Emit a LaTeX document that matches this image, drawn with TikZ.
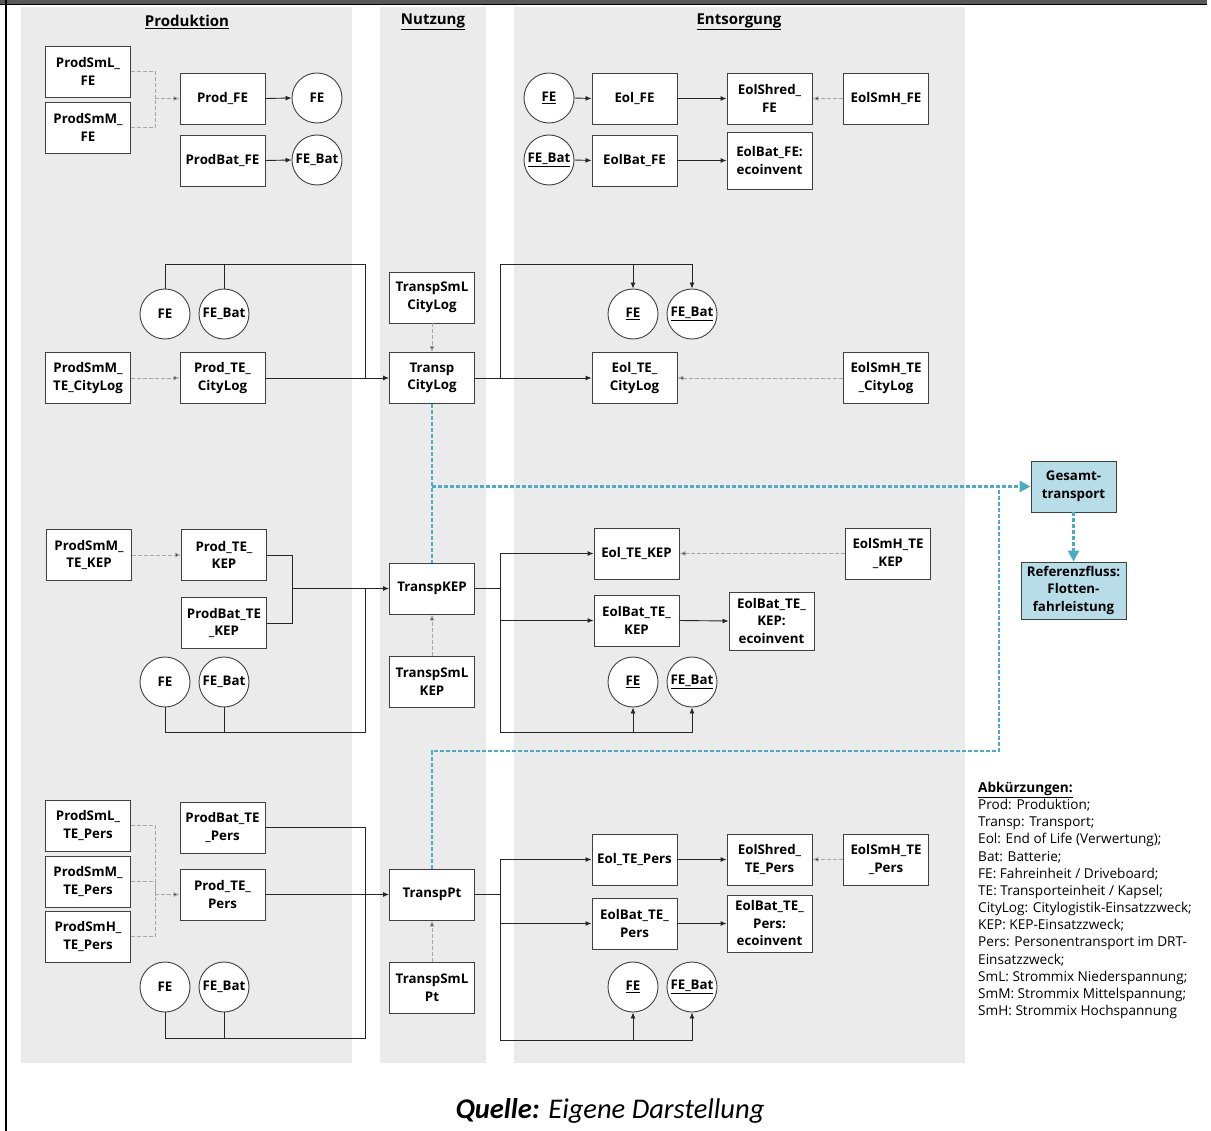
\documentclass[tikz,border=0pt]{standalone}
\usepackage{fontspec}
\setmainfont{Open Sans}
\newfontfamily\capfont{Carlito}
\usetikzlibrary{arrows.meta}
\definecolor{panel}{HTML}{EBEBEB}
\definecolor{bord}{HTML}{404040}
\definecolor{lblue}{HTML}{B7DEE8}
\definecolor{dblue}{HTML}{4BACC6}
\definecolor{dgray}{HTML}{A6A6A6}
\tikzset{
  x=1pt, y=-1pt,
  nfont/.style={font=\fontsize{13.3}{17.5}\selectfont\bfseries},
  box/.style={nfont, draw=bord, fill=white, line width=0.9pt, minimum width=85pt, minimum height=51pt, align=center, inner sep=1pt},
  tall/.style={box, minimum height=57pt},
  circ/.style={nfont, circle, draw=bord, fill=white, line width=0.9pt, minimum size=50pt, inner sep=0pt},
  ln/.style={draw=black!85, line width=0.9pt},
  flow/.style={ln, -{Latex[length=6pt,width=5pt]}},
  dsh/.style={draw=dgray, line width=0.8pt, dash pattern=on 4pt off 2pt},
  dsha/.style={dsh, -{Latex[length=6pt,width=5pt,fill=black!85]}},
  blu/.style={draw=dblue, line width=2.8pt, dash pattern=on 4pt off 2pt},
  bluarr/.style={blu, -{Triangle[length=11pt,width=11pt,fill=dblue]}},
  title/.style={font=\fontsize{15}{18}\selectfont\bfseries},
}
\begin{document}
\begin{tikzpicture}
\useasboundingbox (0,0) rectangle (1211,1131);
\fill[white] (0,0) rectangle (1211,1131);
% frame
\fill[black!65] (0,0) rectangle (1207,4);
\draw[black, line width=1.2pt] (0,4.5) -- (1207,4.5);
\draw[black, line width=2pt] (6,0) -- (6,1131);
% panels
\fill[panel] (21,7) rectangle (352,1063);
\fill[panel] (380,7) rectangle (486,1063);
\fill[panel] (514,7) rectangle (965,1063);
\node[title] (tprod) at (187,22) {\underline{Produktion}};
\node[title] (tnutz) at (433,22) {\underline{Nutzung}};
\node[title] (tents) at (739,22) {\underline{Entsorgung}};

% ---------- top: FE ----------
\node[box] (psl1) at (88,71.5) {ProdSmL\_\\FE};
\node[box] (psm1) at (88,127.5) {ProdSmM\_\\FE};
\node[box] (pfe) at (222.5,98.5) {Prod\_FE};
\node[circ] (fe1) at (317,98) {FE};
\node[box] (pbfe) at (222.5,160.5) {ProdBat\_FE};
\node[circ] (feb1) at (317,160) {FE\_Bat};
\coordinate (j1) at (155,98.5);
\draw[dsh] (psl1.east) -| (j1);
\draw[dsh] (psm1.east) -| (j1);
\draw[dsha] (j1) -- (pfe.west);
\draw[flow] (pfe.east) -- (fe1.west);
\draw[flow] (pbfe.east) -- (feb1.west);

\node[circ] (efe1) at (549,98) {\underline{FE}};
\node[box] (eolfe) at (634.5,98.5) {Eol\_FE};
\node[box] (eshfe) at (769.5,98.5) {EolShred\_\\FE};
\node[box] (esmhfe) at (886,98.5) {EolSmH\_FE};
\node[circ] (efeb1) at (549,160) {\underline{FE\_Bat}};
\node[box] (eolbfe) at (634.5,160.5) {EolBat\_FE};
\node[tall] (eolbfeei) at (769.5,160.5) {EolBat\_FE:\\ecoinvent};
\draw[flow] (efe1.east) -- (eolfe.west);
\draw[flow] (eolfe.east) -- (eshfe.west);
\draw[dsha] (esmhfe.west) -- (eshfe.east);
\draw[flow] (efeb1.east) -- (eolbfe.west);
\draw[flow] (eolbfe.east) -- (eolbfeei.west);

% ---------- CityLog ----------
\node[circ] (cfe) at (165,314) {FE};
\node[circ] (cfeb) at (224,314) {FE\_Bat};
\node[box] (psmc) at (88,378) {ProdSmM\_\\TE\_CityLog};
\node[box] (ptec) at (222.5,378) {Prod\_TE\_\\CityLog};
\node[box] (tsmlc) at (432,297.5) {TranspSmL\\CityLog};
\node[box] (tc) at (432,378) {Transp\\CityLog};
\node[circ] (cefe) at (633,314) {\underline{FE}};
\node[circ] (cefeb) at (692,314) {\underline{FE\_Bat}};
\node[box] (eolc) at (634.5,378) {Eol\_TE\_\\CityLog};
\node[box] (esmhc) at (886,378) {EolSmH\_TE\\\_CityLog};
\coordinate (cj) at (365,378);
\coordinate (ct) at (365,264);
\draw[dsha] (psmc.east) -- (ptec.west);
\draw[flow] (ptec.east) -- (tc.west);
\draw[ln] (cfe.north) |- (ct) -- (cj);
\draw[ln] (cfeb.north) -- (cfeb.north |- ct);
\draw[dsha] (tsmlc.south) -- (tc.north);
\coordinate (cej) at (500,378);
\coordinate (cet) at (500,264);
\draw[ln] (tc.east) -- (cej);
\draw[flow] (cej) -- (eolc.west);
\draw[ln] (cej) -- (cet);
\draw[flow] (cet) -| (cefeb.north);
\draw[flow] (cefe.north |- cet) -- (cefe.north);
\draw[dsha] (esmhc.west) -- (eolc.east);

% ---------- KEP ----------
\node[box] (psmk) at (89,555) {ProdSmM\_\\TE\_KEP};
\node[box] (ptek) at (224,555) {Prod\_TE\_\\KEP};
\node[box] (pbk) at (224,623) {ProdBat\_TE\\\_KEP};
\node[circ] (kfe) at (165,682) {FE};
\node[circ] (kfeb) at (224,682) {FE\_Bat};
\node[box] (tk) at (432,588.5) {TranspKEP};
\node[box] (tsmlk) at (432,681.5) {TranspSmL\\KEP};
\node[box] (eolk) at (636.5,553.5) {Eol\_TE\_KEP};
\node[box] (esmhk) at (888,553.5) {EolSmH\_TE\\\_KEP};
\node[box] (eolbk) at (636.5,620.5) {EolBat\_TE\_\\KEP};
\node[box, minimum height=58pt] (eolbkei) at (771.5,621) {EolBat\_TE\_\\KEP:\\ecoinvent};
\node[circ] (kefe) at (633,682) {\underline{FE}};
\node[circ] (kefeb) at (692,682) {\underline{FE\_Bat}};
\draw[dsha] (psmk.east) -- (ptek.west);
\coordinate (kj1) at (292,588.5);
\draw[ln] (ptek.east) -| (kj1);
\draw[ln] (pbk.east) -| (kj1);
\draw[flow] (kj1) -- (tk.west);
\coordinate (kb) at (365,732);
\coordinate (kj2) at (365,588.5);
\draw[ln] (kfe.south) |- (kb) -- (kj2);
\draw[ln] (kfeb.south) -- (kfeb.south |- kb);
\draw[dsha] (tsmlk.north) -- (tk.south);
\coordinate (kej) at (500,588.5);
\coordinate (ket) at (500,553.5);
\coordinate (keb) at (500,732);
\draw[ln] (tk.east) -- (kej);
\draw[ln] (ket) -- (keb);
\draw[flow] (ket) -- (eolk.west);
\draw[flow] (eolbk.west -| kej) -- (eolbk.west);
\draw[flow] (keb) -| (kefeb.south);
\draw[flow] (kefe.south |- keb) -- (kefe.south);
\draw[dsha] (esmhk.west) -- (eolk.east);
\draw[flow] (eolbk.east) -- (eolbkei.west);

% ---------- Pers ----------
\node[box] (pslp) at (88,825.5) {ProdSmL\_\\TE\_Pers};
\node[box] (psmp) at (88,881.5) {ProdSmM\_\\TE\_Pers};
\node[box] (pshp) at (88,936.5) {ProdSmH\_\\TE\_Pers};
\node[box] (pbp) at (222.5,827.5) {ProdBat\_TE\\\_Pers};
\node[box] (ptep) at (222.5,894.5) {Prod\_TE\_\\Pers};
\node[circ] (xfe) at (165,987) {FE};
\node[circ] (xfeb) at (224,987) {FE\_Bat};
\node[box] (tp) at (432,894.5) {TranspPt};
\node[box] (tsmlp) at (432,987.5) {TranspSmL\\Pt};
\node[box] (eolp) at (634.5,859.5) {Eol\_TE\_Pers};
\node[box] (eshp) at (769.5,859.5) {EolShred\_\\TE\_Pers};
\node[box] (esmhp) at (886,859.5) {EolSmH\_TE\\\_Pers};
\node[box] (eolbp) at (634.5,923.5) {EolBat\_TE\_\\Pers};
\node[tall] (eolbpei) at (769.5,923.5) {EolBat\_TE\_\\Pers:\\ecoinvent};
\node[circ] (pefe) at (633,987) {\underline{FE}};
\node[circ] (pefeb) at (692,987) {\underline{FE\_Bat}};
\coordinate (pj) at (155,894.5);
\draw[dsh] (pslp.east) -| (pj);
\draw[dsh] (psmp.east) -| (pj);
\draw[dsh] (pshp.east) -| (pj);
\draw[dsha] (pj) -- (ptep.west);
\coordinate (pr) at (365,894.5);
\coordinate (pb) at (365,1038);
\draw[ln] (pbp.east) -| (pr);
\draw[flow] (ptep.east) -- (tp.west);
\draw[ln] (xfe.south) |- (pb) -- (pr);
\draw[ln] (xfeb.south) -- (xfeb.south |- pb);
\draw[dsha] (tsmlp.north) -- (tp.south);
\coordinate (pej) at (500,894.5);
\coordinate (pet) at (500,859.5);
\coordinate (peb) at (500,1040);
\draw[ln] (tp.east) -- (pej);
\draw[ln] (pet) -- (peb);
\draw[flow] (pet) -- (eolp.west);
\draw[flow] (eolbp.west -| pej) -- (eolbp.west);
\draw[flow] (peb) -| (pefeb.south);
\draw[flow] (pefe.south |- peb) -- (pefe.south);
\draw[flow] (eolp.east) -- (eshp.west);
\draw[dsha] (esmhp.west) -- (eshp.east);
\draw[flow] (eolbp.east) -- (eolbpei.west);

% ---------- Gesamttransport ----------
\node[box, fill=lblue] (ges) at (1073.5,486.5) {Gesamt-\\transport};
\node[box, fill=lblue, minimum width=105pt, minimum height=57pt] (ref) at (1073.5,590.5) {Referenzfluss:\\Flotten-\\fahrleistung};
\coordinate (b1) at (432,486.5);
\coordinate (b2) at (999,486.5);
\coordinate (b3) at (999,751);
\coordinate (b4) at (432,751);
\draw[blu] (tc.south) -- (tk.north);
\draw[bluarr] (b1) -- (ges.west);
\draw[blu] (tp.north) -- (b4) -- (b3) -- (b2);
\draw[bluarr] (ges.south) -- (ref.north);

% ---------- legend ----------
\node[anchor=north west, align=left, inner sep=0pt, font=\fontsize{13.6}{17.15}\selectfont] (leg) at (978,782) {%
\textbf{\underline{Abkürzungen:}}\\
Prod: Produktion;\\
Transp: Transport;\\
Eol: End of Life (Verwertung);\\
Bat: Batterie;\\
FE: Fahreinheit / Driveboard;\\
TE: Transporteinheit / Kapsel;\\
CityLog: Citylogistik-Einsatzzweck;\\
KEP: KEP-Einsatzzweck;\\
Pers: Personentransport im DRT-\\
Einsatzzweck;\\
SmL: Strommix Niederspannung;\\
SmM: Strommix Mittelspannung;\\
SmH: Strommix Hochspannung};

% ---------- caption ----------
\node[font=\capfont\fontsize{28.5}{33}\selectfont] (cap) at (610,1111) {\textbf{\textit{Quelle:}} \textit{Eigene Darstellung}};
\end{tikzpicture}
\end{document}
